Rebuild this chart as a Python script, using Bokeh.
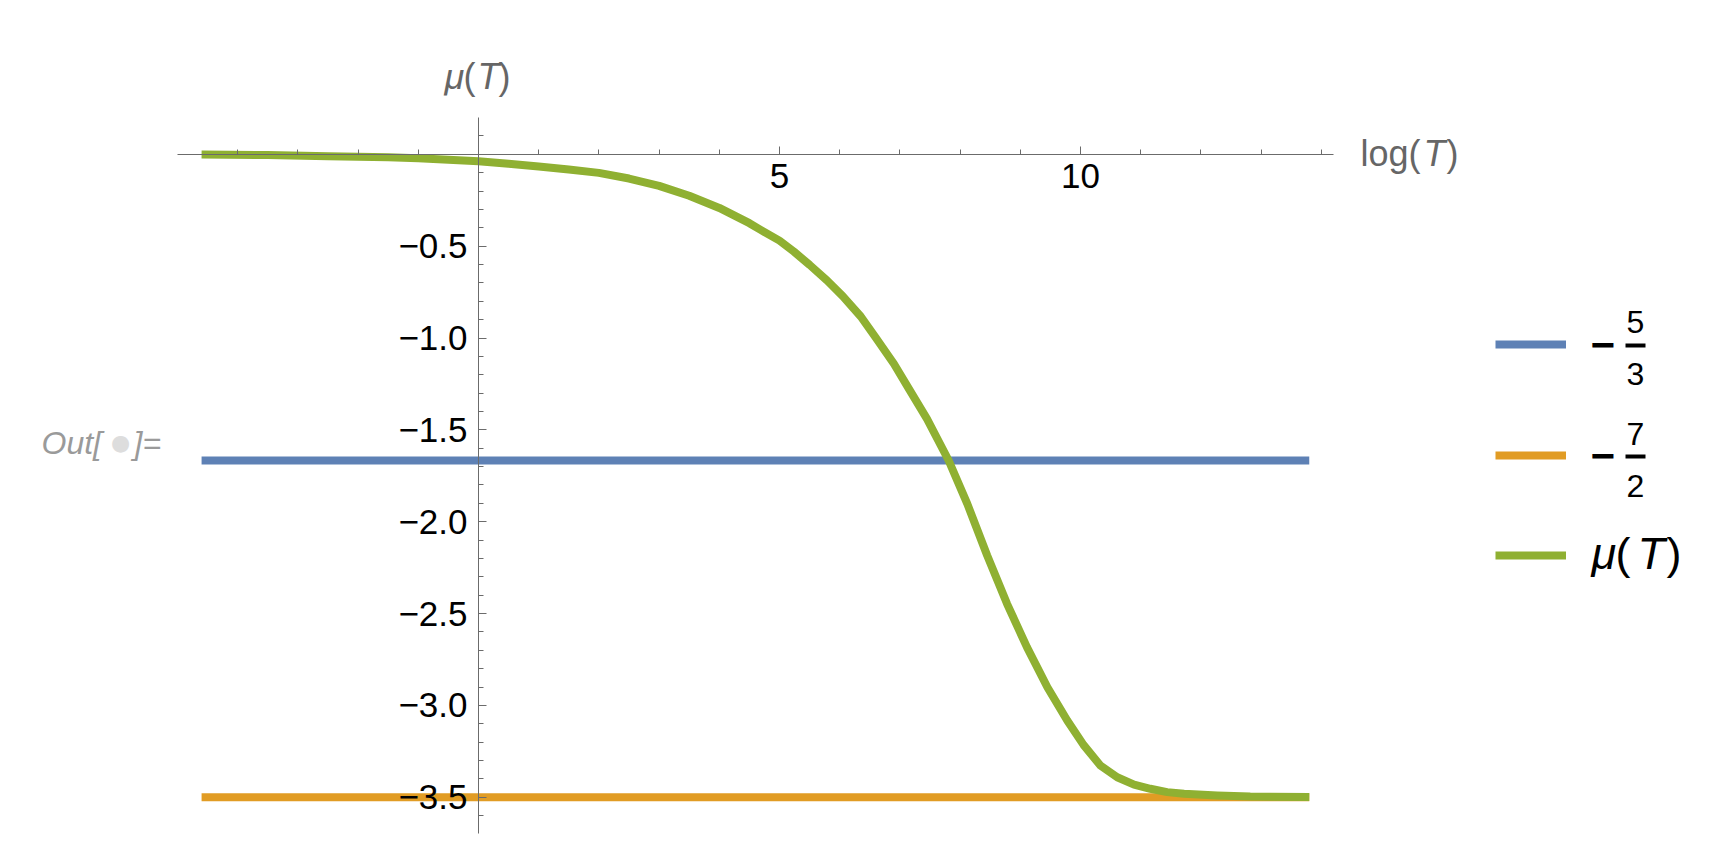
from bokeh.plotting import figure
from bokeh.models import (Range1d, LinearAxis, FixedTicker, CustomJSTickFormatter,
                          Label, Legend, LegendItem, BoxAnnotation)
from bokeh.embed import file_html
from bokeh.resources import INLINE

# ---------------- data ----------------
log_T = [-4.6, -3.5, -2.5, -1.5, -1.0, 0.0, 0.5, 1.0, 1.5, 2.0, 2.5, 3.0, 3.5, 4.0,
         4.5, 4.68, 5.0, 5.24, 5.5, 5.79, 6.05, 6.35, 6.6, 6.9, 7.15, 7.45, 7.81,
         8.12, 8.45, 8.78, 9.11, 9.45, 9.78, 10.05, 10.33, 10.61, 10.89, 11.16,
         11.44, 11.72, 12.27, 12.82, 13.8]
mu_T = [-0.001, -0.004, -0.010, -0.016, -0.021, -0.038, -0.051, -0.066, -0.083,
        -0.101, -0.132, -0.172, -0.226, -0.292, -0.375, -0.410, -0.470, -0.530,
        -0.602, -0.687, -0.772, -0.883, -0.999, -1.140, -1.277, -1.440, -1.667,
        -1.903, -2.184, -2.447, -2.683, -2.901, -3.082, -3.215, -3.327, -3.391,
        -3.431, -3.454, -3.472, -3.481, -3.490, -3.496, -3.499]
level_blue = -5 / 3      # -5/3
level_orange = -7 / 2    # -7/2

x_major_ticks = [5, 10]
x_minor_ticks = [-4, -3, -2, -1, 1, 2, 3, 4, 6, 7, 8, 9, 11, 12, 13, 14]
y_major_ticks = [-3.5, -3.0, -2.5, -2.0, -1.5, -1.0, -0.5]
y_minor_ticks = [-3.6, -3.4, -3.3, -3.2, -3.1, -2.9, -2.8, -2.7, -2.6, -2.4, -2.3,
                 -2.2, -2.1, -1.9, -1.8, -1.7, -1.6, -1.4, -1.3, -1.2, -1.1, -0.9,
                 -0.8, -0.7, -0.6, -0.4, -0.3, -0.2, -0.1, 0.1]

# ---------------- styling ----------------
BLUE, ORANGE, GREEN = "#5E81B5", "#E19C24", "#8FB032"
AXIS = "#6b6b6b"
LABEL_GRAY = "#666666"
FONT = "Liberation Sans"

W, H = 1712, 835
X0, XS = 478.0, 60.2     # canvas px of log(T)=0, px per unit
Y0, YS = 153.8, 183.7    # canvas px of mu=0, px per unit


def fx(px):
    return (px - X0) / XS


def fy(py):
    return (Y0 - py) / YS


p = figure(width=W, height=H, x_range=Range1d(fx(0), fx(W)),
           y_range=Range1d(fy(H), fy(0)), x_axis_type=None, y_axis_type=None,
           toolbar_location=None, output_backend="svg", min_border=0,
           outline_line_color=None, background_fill_color="white")

xaxis = LinearAxis(fixed_location=0, bounds=(-5.0, 14.2),
                   ticker=FixedTicker(ticks=x_major_ticks, minor_ticks=x_minor_ticks),
                   formatter=CustomJSTickFormatter(code="return tick.toFixed(0);"),
                   axis_line_color=AXIS, major_tick_line_color=AXIS,
                   minor_tick_line_color=AXIS, major_tick_in=8, major_tick_out=0,
                   minor_tick_in=5, minor_tick_out=0, major_label_standoff=10,
                   major_label_text_font=FONT, major_label_text_font_size="35px",
                   major_label_text_color="black")
p.add_layout(xaxis, "below")

yaxis = LinearAxis(fixed_location=0, bounds=(-3.697, 0.2),
                   ticker=FixedTicker(ticks=y_major_ticks, minor_ticks=y_minor_ticks),
                   formatter=CustomJSTickFormatter(
                       code="return (tick < 0 ? '\u2212' : '') + Math.abs(tick).toFixed(1);"),
                   axis_line_color=AXIS, major_tick_line_color=AXIS,
                   minor_tick_line_color=AXIS, major_tick_in=8, major_tick_out=0,
                   minor_tick_in=5, minor_tick_out=0, major_label_standoff=11,
                   major_label_text_font=FONT, major_label_text_font_size="35px",
                   major_label_text_color="black")
p.add_layout(yaxis, "left")

x_ends = [log_T[0], log_T[-1]]
r_blue = p.line(x_ends, [level_blue, level_blue], line_width=8, line_color=BLUE)
r_orange = p.line(x_ends, [level_orange, level_orange], line_width=8, line_color=ORANGE)
r_green = p.line(log_T, mu_T, line_width=8, line_color=GREEN, line_join="round")


def txt(x_px, base_px, s, size, color="black", style="normal", align="left", font=FONT):
    # base_px: alphabetic baseline in canvas px; Label anchored at the text middle
    mid = base_px - 0.347 * size
    p.add_layout(Label(x=fx(x_px), y=fy(mid), text=s, text_font=font,
                       text_font_size=f"{size}px", text_color=color,
                       text_font_style=style, text_baseline="middle",
                       text_align=align))


# axis labels
txt(444, 88, "\u03bc", 36, LABEL_GRAY, "italic")
txt(463, 88, "(", 36, LABEL_GRAY)
txt(477, 88, "T", 36, LABEL_GRAY, "italic")
txt(498, 88, ")", 36, LABEL_GRAY)

txt(1360, 165, "log(", 36, LABEL_GRAY)
txt(1423, 165, "T", 36, LABEL_GRAY, "italic")
txt(1446, 165, ")", 36, LABEL_GRAY)

# "Out[ ]=" cell label
txt(41, 454, "Out[", 32, "#9a9a9a", "italic")
txt(120, 450, "\u25cf", 22, "#dddddd", align="center", font="DejaVu Sans")
txt(133, 454, "]=", 32, "#9a9a9a", "italic")


# legend swatches
def swatch(renderer, cy):
    leg = Legend(items=[LegendItem(label=" ", renderers=[renderer])],
                 location=(1495, H - cy - 10), glyph_width=71,
                 glyph_height=20, label_height=20, label_width=0, label_standoff=0,
                 padding=0, margin=0, spacing=0, border_line_color=None,
                 background_fill_alpha=0, label_text_font_size="1px")
    p.add_layout(leg)


swatch(r_blue, 344)
swatch(r_orange, 455)
swatch(r_green, 555)


def fraction(cy, num, den, num_base, den_base):
    txt(1590, cy + 14, "\u2212", 42, style="bold")
    txt(1635, num_base, num, 32, align="center")
    txt(1635, den_base, den, 32, align="center")
    p.add_layout(BoxAnnotation(left=fx(1625), right=fx(1645), top=fy(cy - 2),
                               bottom=fy(cy + 2), fill_color="black", fill_alpha=1,
                               line_color=None))


fraction(345, "5", "3", 333, 385)
fraction(456, "7", "2", 445, 497)

txt(1591, 569, "\u03bc", 45, "black", "italic")
txt(1615, 569, "(", 45)
txt(1637, 569, "T", 45, "black", "italic")
txt(1666, 569, ")", 45)

open("out.html", "w", encoding="utf-8").write(file_html(p, INLINE))
